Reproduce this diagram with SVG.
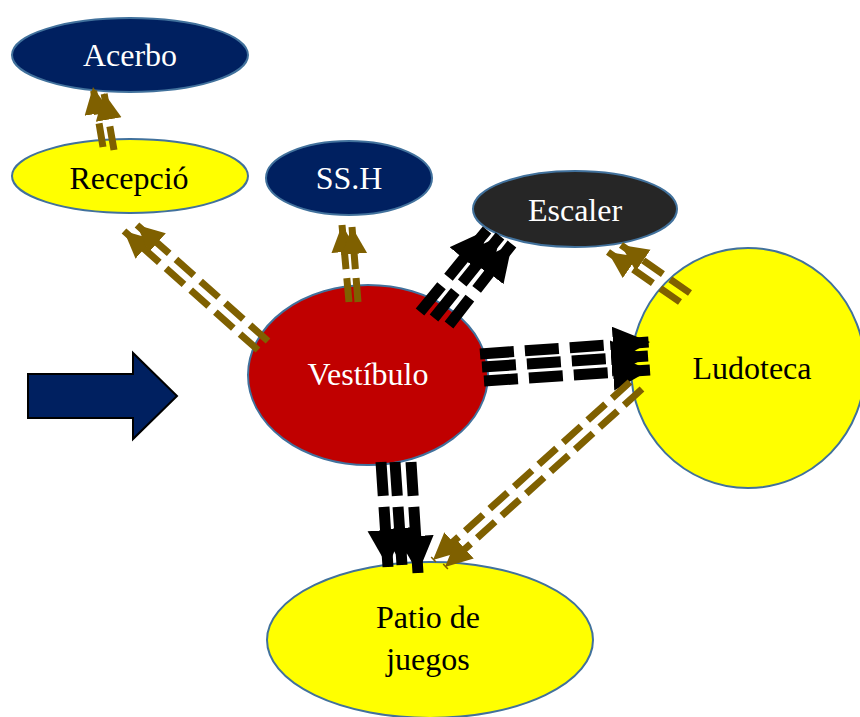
<svg xmlns="http://www.w3.org/2000/svg" width="860" height="717" viewBox="0 0 860 717">
<style>
.node{stroke:#41719C;stroke-width:2}
.navy{fill:#002060}
.yel{fill:#FFFF00}
.red{fill:#C00000}
.dark{fill:#262626}
.t{font-family:"Liberation Serif","Times New Roman",serif;font-size:32px;text-anchor:middle;dominant-baseline:central}
.w{fill:#FFFFFF}
.b{fill:#000000}
.br{stroke:#7F6000;stroke-width:7;fill:none;stroke-dasharray:24 9;marker-end:url(#ah-br)}
.bk{stroke:#000000;stroke-width:11;fill:none;stroke-dasharray:34 11;marker-end:url(#ah-bk)}
</style>
<defs>
<marker id="ah-br" markerUnits="userSpaceOnUse" markerWidth="30" markerHeight="28" refX="27" refY="13" orient="auto" viewBox="0 0 30 28">
<path d="M0,0 L27,13 L0,26 Z" fill="#7F6000"/>
</marker>
<marker id="ah-bk" markerUnits="userSpaceOnUse" markerWidth="40" markerHeight="38" refX="37" refY="18" orient="auto" viewBox="0 0 40 38">
<path d="M0,0 L37,18 L0,36 Z" fill="#000000"/>
</marker>
</defs>
<rect x="0" y="0" width="860" height="717" fill="#FFFFFF"/>

<g id="entrada">
<polygon points="28,374 133,374 133,353 177,396 133,439 133,418 28,418" fill="#002060" stroke="#000000" stroke-width="2"/>
</g>
<g id="acerbo">
<ellipse class="node navy" cx="130" cy="55" rx="118" ry="37"/>
<text class="t w" x="130" y="55">Acerbo</text>
</g>
<g id="recepcio">
<ellipse class="node yel" cx="130" cy="176" rx="118" ry="37"/>
<text class="t b" x="129" y="178">Recepció</text>
</g>
<g id="ssh">
<ellipse class="node navy" cx="349" cy="178" rx="83" ry="37"/>
<text class="t w" x="349" y="178">SS.H</text>
</g>
<g id="escaler">
<ellipse class="node dark" cx="575" cy="209" rx="102" ry="38"/>
<text class="t w" x="575" y="210">Escaler</text>
</g>
<g id="vestibulo">
<ellipse class="node red" cx="368" cy="375" rx="120" ry="90"/>
<text class="t w" x="368" y="374">Vestíbulo</text>
</g>
<g id="ludoteca">
<ellipse class="node yel" cx="748" cy="368" rx="117" ry="120"/>
<text class="t b" x="752" y="368">Ludoteca</text>
</g>
<g id="patio">
<ellipse class="node yel" cx="430" cy="640" rx="163" ry="78"/>
<text class="t b" x="428" y="617">Patio de</text>
<text class="t b" x="428" y="659">juegos</text>
</g>

<g id="connectors">
<line class="br" x1="103" y1="147" x2="93" y2="87"/>
<line class="br" x1="114" y1="150" x2="104" y2="93"/>
<line class="br" x1="258" y1="350" x2="124" y2="231"/>
<line class="br" x1="268" y1="341" x2="137" y2="225"/>
<line class="br" x1="349" y1="302" x2="342" y2="225"/>
<line class="br" x1="358" y1="302" x2="352" y2="227"/>
<line class="bk" x1="420" y1="312" x2="487" y2="230"/>
<line class="bk" x1="434" y1="318" x2="500" y2="236"/>
<line class="bk" x1="449" y1="325" x2="512" y2="244"/>
<line class="bk" x1="480" y1="354" x2="650" y2="342"/>
<line class="bk" x1="482" y1="367" x2="648" y2="356"/>
<line class="bk" x1="484" y1="381" x2="650" y2="370"/>
<line class="bk" x1="381" y1="462" x2="388" y2="567"/>
<line class="bk" x1="395" y1="462" x2="402" y2="565"/>
<line class="bk" x1="411" y1="462" x2="418" y2="573"/>
<line class="br" x1="630" y1="382" x2="433" y2="560"/>
<line class="br" x1="642" y1="389" x2="445" y2="567"/>
<line class="br" x1="680" y1="302" x2="608" y2="252"/>
<line class="br" x1="690" y1="293" x2="621" y2="245"/>
</g>
</svg>
